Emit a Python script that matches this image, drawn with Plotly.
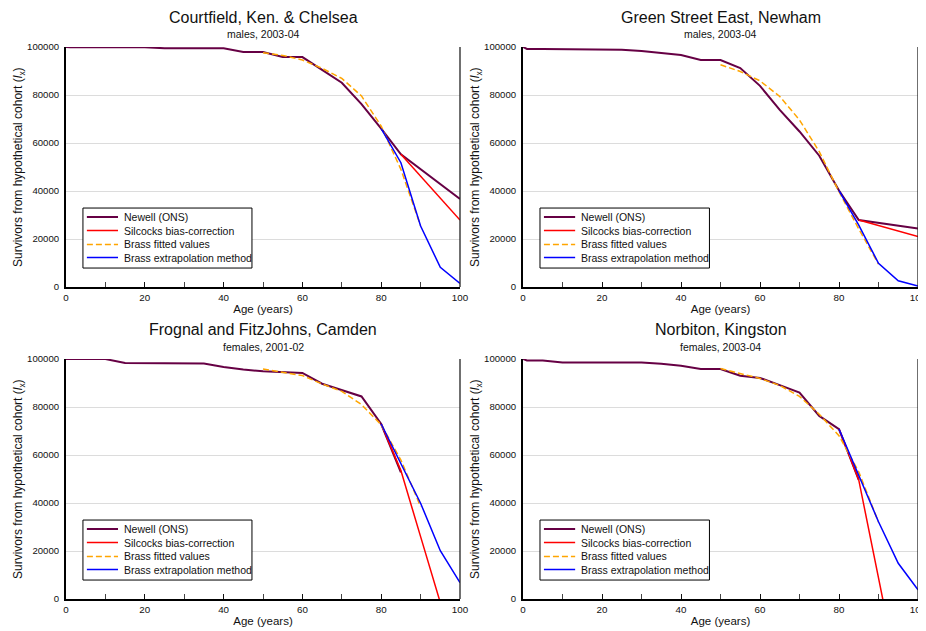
import plotly.graph_objects as go

# ---------------- data ----------------
ages = [0, 1, 5, 10, 15, 20, 25, 30, 35, 40, 45, 50, 55, 60, 65, 70, 75, 80, 85, 90, 95, 100]
fit_ages = [50, 55, 60, 65, 70, 75, 80, 85, 90]
ext_ages = [80, 85, 90, 95, 100]

series_names = ["Newell (ONS)", "Silcocks bias-correction", "Brass fitted values", "Brass extrapolation method"]

panel_titles = ["Courtfield, Ken. & Chelsea", "Green Street East, Newham",
                "Frognal and FitzJohns, Camden", "Norbiton, Kingston"]
panel_subtitles = ["males, 2003-04", "males, 2003-04", "females, 2001-02", "females, 2003-04"]
y_title = "Survivors from hypothetical cohort (<i>l</i><sub>x</sub>)"
x_title = "Age (years)"

# Panel 1: Courtfield
p1_newell = [100000, 99900, 99900, 99900, 99900, 99900, 99500, 99500, 99500, 99500, 97900,
             97900, 95800, 95800, 90500, 85100, 76200, 66000, 55300, 49000, 42800, 36700]
p1_silcocks_ages = [85, 90, 95, 100]
p1_silcocks = [55300, 46200, 37000, 27900]
p1_brass_fit = [97600, 96500, 94600, 91100, 86900, 79600, 67000, 49000, 25500]
p1_brass_ext = [66000, 51800, 25400, 8200, 1500]

# Panel 2: Green Street East
p2_newell = [100000, 99200, 99200, 99200, 99200, 99200, 98900, 98300, 97600, 96700, 94600,
             94600, 91200, 83800, 73800, 64800, 54700, 40200, 27900, 26700, 25500, 24400]
p2_silcocks_ages = [85, 90, 95, 100]
p2_silcocks = [27900, 25600, 23300, 21000]
p2_brass_fit = [92600, 89800, 85900, 79400, 69600, 56400, 39700, 24200, 9500]
p2_brass_ext = [40200, 25800, 9900, 2600, 400]

# Panel 3: Frognal and FitzJohns
p3_newell = [100000, 100000, 100000, 100000, 98300, 98300, 98300, 98300, 98100, 96700, 95600,
             94900, 94400, 94200, 89700, 86900, 84400, 72900, 52800]
p3_silcocks_ages = [80, 85, 90, 95]
p3_silcocks = [72900, 53500, 26000, -1500]
p3_brass_fit = [95800, 94600, 93100, 89600, 86500, 81000, 72600, 57900, 38500]
p3_brass_ext = [72900, 56500, 39900, 20100, 6800]

# Panel 4: Norbiton
p4_newell = [100000, 99400, 99400, 98500, 98500, 98500, 98500, 98500, 98000, 97200, 95800,
             95800, 93000, 92100, 89100, 86000, 76300, 70800, 49600]
p4_silcocks_ages = [80, 85, 90, 95]
p4_silcocks = [70800, 49600, 8800, -32000]
p4_brass_fit = [96000, 94100, 91900, 89000, 84400, 77000, 68000, 53000, 32000]
p4_brass_ext = [70800, 51200, 32200, 14900, 3800]

y_ticks = [0, 20000, 40000, 60000, 80000, 100000]
x_ticks = [0, 20, 40, 60, 80, 100]

# ---------------- styling ----------------
FONT = "Liberation Sans, Arial, Helvetica, sans-serif"
colors = ["#660044", "#ff0000", "#ffa500", "#0000ff"]
widths = [2, 1.5, 1.5, 1.5]
dashes = ["solid", "solid", "6px,3px", "solid"]

# the page body adds an 8px offset, so positions below are page pixels minus 8
OFF = 8
W, H = 926, 631 - OFF


def px_x(p):
    return (p - OFF) / W


def px_y(p):
    return 1 - (p - OFF) / H


x_domains = [[px_x(66), px_x(460)], [px_x(523), px_x(918)],
             [px_x(66), px_x(460)], [px_x(523), px_x(918)]]
y_domains = [[px_y(287), px_y(47)], [px_y(287), px_y(47)],
             [px_y(599), px_y(359)], [px_y(599), px_y(359)]]
title_y = [px_y(17.5), px_y(17.5), px_y(329), px_y(329)]
sub_y = [px_y(34.5), px_y(34.5), px_y(346.5), px_y(346.5)]
ytitle_x = [px_x(19), px_x(476), px_x(19), px_x(476)]

panels = [
    (p1_newell, p1_silcocks_ages, p1_silcocks, p1_brass_fit, p1_brass_ext),
    (p2_newell, p2_silcocks_ages, p2_silcocks, p2_brass_fit, p2_brass_ext),
    (p3_newell, p3_silcocks_ages, p3_silcocks, p3_brass_fit, p3_brass_ext),
    (p4_newell, p4_silcocks_ages, p4_silcocks, p4_brass_fit, p4_brass_ext),
]

fig = go.Figure()
layout = dict(
    width=W, height=H,
    margin=dict(l=0, r=0, t=0, b=0, autoexpand=False),
    paper_bgcolor="white", plot_bgcolor="white",
    showlegend=False,
    font=dict(family=FONT, color="#111111"),
    annotations=[], shapes=[],
)

for i, (newell, s_ages, silc, bfit, bext) in enumerate(panels):
    n = i + 1
    xa = "x" if n == 1 else f"x{n}"
    ya = "y" if n == 1 else f"y{n}"
    xs = [ages[:len(newell)], s_ages, fit_ages, ext_ages]
    ys = [newell, silc, bfit, bext]
    for k in range(4):
        fig.add_trace(go.Scatter(
            x=xs[k], y=ys[k], mode="lines", name=series_names[k],
            line=dict(color=colors[k], width=widths[k], dash=dashes[k]),
            xaxis=xa, yaxis=ya, hoverinfo="x+y+name",
        ))

    xkey = "xaxis" if n == 1 else f"xaxis{n}"
    ykey = "yaxis" if n == 1 else f"yaxis{n}"
    layout[xkey] = dict(
        domain=x_domains[i], anchor=ya, range=[0, 100], automargin=False,
        tickvals=x_ticks, ticks="inside", ticklen=5, tickcolor="#111111", tickwidth=1,
        minor=dict(tickvals=[10, 30, 50, 70, 90], ticks="inside", ticklen=5, tickcolor="#444444"),
        showline=True, linecolor="black", linewidth=2, showgrid=False, zeroline=False,
        tickfont=dict(size=9.8, family=FONT),
        title=dict(text=x_title, font=dict(size=11.5, family=FONT), standoff=3),
    )
    layout[ykey] = dict(
        domain=y_domains[i], anchor=xa, range=[0, 100000], automargin=False,
        tickvals=y_ticks, tickformat="d", ticks="", showline=True, linecolor="black", linewidth=2,
        showgrid=True, gridcolor="#dcdcdc", gridwidth=1, zeroline=False,
        tickfont=dict(size=9.6, family=FONT), ticklabelstandoff=3,
    )
    xc = (x_domains[i][0] + x_domains[i][1]) / 2
    yc = (y_domains[i][0] + y_domains[i][1]) / 2
    layout["annotations"].append(dict(
        text=panel_titles[i], x=xc, y=title_y[i], xref="paper", yref="paper",
        showarrow=False, xanchor="center", yanchor="middle",
        font=dict(size=16, family=FONT, color="#111111")))
    layout["annotations"].append(dict(
        text=panel_subtitles[i], x=xc, y=sub_y[i], xref="paper", yref="paper",
        showarrow=False, xanchor="center", yanchor="middle",
        font=dict(size=10.5, family=FONT, color="#111111")))
    layout["annotations"].append(dict(
        text=y_title, x=ytitle_x[i], y=yc, xref="paper", yref="paper", textangle=-90,
        showarrow=False, xanchor="center", yanchor="middle",
        font=dict(size=12, family=FONT, color="#111111")))

    xd = f"{xa} domain"
    yd = f"{ya} domain"
    # right border of the plot frame
    layout["shapes"].append(dict(type="line", xref=xd, yref=yd, x0=1, x1=1, y0=0, y1=1,
                                 line=dict(color="#222222", width=1.3)))
    # legend box
    layout["shapes"].append(dict(type="rect", xref=xd, yref=yd, x0=0.043, x1=0.472,
                                 y0=0.079, y1=0.329, fillcolor="white",
                                 line=dict(color="black", width=1)))
    item_y = [0.2917, 0.2354, 0.1771, 0.1229]
    for k in range(4):
        layout["shapes"].append(dict(type="line", xref=xd, yref=yd, x0=0.053, x1=0.132,
                                     y0=item_y[k], y1=item_y[k],
                                     line=dict(color=colors[k], width=widths[k], dash=dashes[k])))
        layout["annotations"].append(dict(
            text=series_names[k], x=0.142, y=item_y[k], xref=xd, yref=yd,
            showarrow=False, xanchor="left", yanchor="middle",
            font=dict(size=10.5, family=FONT, color="#111111")))

fig.update_layout(**layout)
fig.write_html("out.html")
